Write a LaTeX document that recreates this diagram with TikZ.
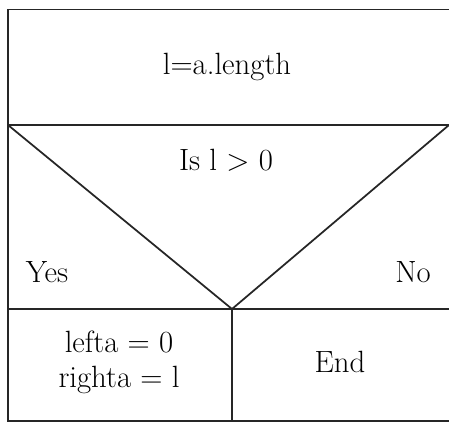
\documentclass[tikz,border=0pt]{standalone}
\usepackage{fontspec}
\usetikzlibrary{positioning}

\begin{document}
\begin{tikzpicture}[x=0.02cm, y=-0.02cm, line width=1pt, draw=black!85,
    lbl/.style={font=\fontsize{17.5}{20}\selectfont, inner sep=0pt, align=center}]
    \useasboundingbox (0,0) rectangle (449,423);
    % corners of the blocks (right side runs off the picture)
    \coordinate (tl) at (8,9.5);
    \coordinate (tr) at (449,9.5);
    \coordinate (ml) at (8,125);
    \coordinate (mr) at (449,125);
    \coordinate (tip) at (232,309);
    \coordinate (bl) at (8,309);
    \coordinate (br) at (449,309);
    \coordinate (fl) at (8,421);
    \coordinate (fr) at (449,421);
    \coordinate (fm) at (232,421);
    \draw (tr) -- (tl) -- (fl) -- (fr);
    \draw (ml) -- (mr);
    \draw (bl) -- (br);
    \draw (ml) -- (tip) -- (mr);
    \draw (tip) -- (fm);
    % texts
    \node[lbl] (init) at (227,67) {l=a.length};
    \node[lbl] (test) at (226,160) {Is l $>$ 0};
    \node[lbl] (yes) at (47,272) {Yes};
    \node[lbl] (no) at (413,272) {No};
    \node[lbl] (setv) at (119,362) {lefta = 0\\righta = l};
    \node[lbl] (stop) at (340,362) {End};
\end{tikzpicture}
\end{document}
